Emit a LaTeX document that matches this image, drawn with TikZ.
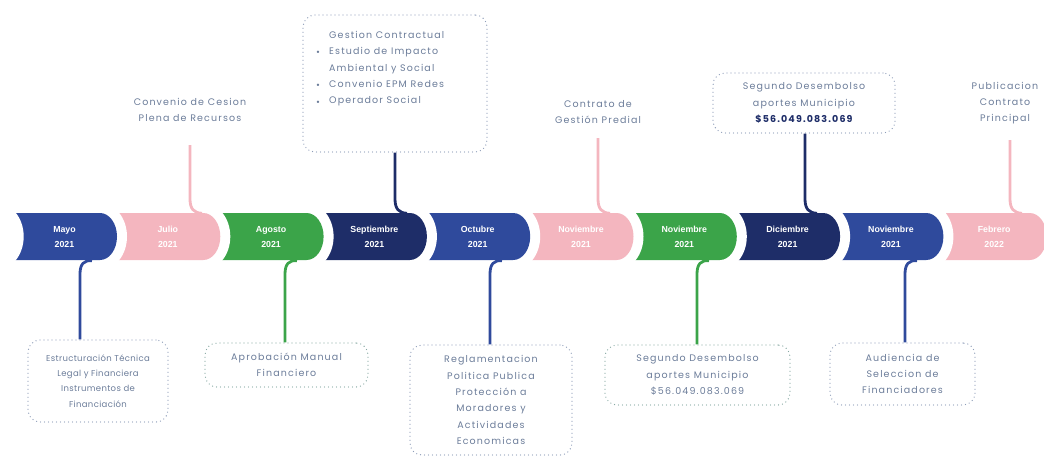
\documentclass[tikz,border=0pt]{standalone}
\usepackage{fontspec}
\newfontfamily\lblfont[LetterSpace=12]{Poppins}
\newfontfamily\lblfontn[LetterSpace=4]{Poppins}
\newfontfamily\segfont{Liberation Sans}
\definecolor{cblue}{HTML}{2F4A9C}
\definecolor{cnavy}{HTML}{1E2D68}
\definecolor{cpink}{HTML}{F4B6BF}
\definecolor{cgreen}{HTML}{3BA449}
\definecolor{ctext}{HTML}{6B7C99}
\definecolor{cdotb}{HTML}{8E9DB8}
\definecolor{cdotg}{HTML}{86A8A2}
\tikzset{
  seglbl/.style={inner sep=0pt, minimum width=105pt, minimum height=47pt, text=white,
    font=\segfont\bfseries\fontsize{8.8}{15}\selectfont, align=center},
  lbl/.style={text=ctext, font=\lblfont\fontsize{9.5}{16.3}\selectfont, align=center, inner sep=0pt},
  box/.style={draw=#1, line width=1.3pt, dash pattern=on 0pt off 4pt, line cap=round,
    rounded corners=12pt, inner sep=0pt, text=ctext,
    font=\lblfont\fontsize{9.5}{16.3}\selectfont, align=center},
  conn/.style={draw=#1, line width=2.8pt}
}
\begin{document}
\begin{tikzpicture}[x=1pt,y=-1pt]
\path[use as bounding box] (0,0) rectangle (1044,458);
% timeline segments, drawn right to left
\foreach \i/\col/\mo/\yr in {9/cpink/Febrero/2022, 8/cblue/Noviembre/2021, 7/cnavy/Diciembre/2021,
  6/cgreen/Noviembre/2021, 5/cpink/Noviembre/2021, 4/cblue/Octubre/2021, 3/cnavy/Septiembre/2021,
  2/cgreen/Agosto/2021, 1/cpink/Julio/2021, 0/cblue/Mayo/2021}{
  \pgfmathsetmacro\L{12+103.3*\i}
  \pgfmathsetmacro\c{\L+88}
  \pgfmathsetmacro\cp{\L-15.3}
  \fill[\col] (\L-8,213) -- (\c,213) .. controls (\c+9.4,213) and (\c+17,223.5) .. (\c+17,236.5)
     .. controls (\c+17,249.5) and (\c+9.4,260) .. (\c,260) -- (\L-8,260) -- cycle;
  \fill[white] (\cp,236.5) ellipse [x radius=27pt, y radius=33.5pt];
  \node[seglbl] (s\i) at (\L+52.5,237) {\mo\\\yr};
}
% bottom boxes
\node[box=cdotb, minimum width=140pt, minimum height=82pt,
  font=\lblfontn\fontsize{8.5}{15.3}\selectfont] (b0) at (98,381)
  {Estructuración Técnica\\Legal y Financiera\\Instrumentos de\\Financiación};
\node[box=cdotg, minimum width=163pt, minimum height=44pt] (b2) at (286.5,365)
  {Aprobación Manual\\Financiero};
\node[box=cdotb, minimum width=162pt, minimum height=110pt] (b4) at (491,400)
  {Reglamentacion\\Politica Publica\\Protección a\\Moradores y\\Actividades\\Economicas};
\node[box=cdotg, minimum width=185pt, minimum height=60pt] (b6) at (697.5,375)
  {Segundo Desembolso\\aportes Municipio\\\$56.049.083.069};
\node[box=cdotb, minimum width=145pt, minimum height=62pt] (b8) at (902.5,374)
  {Audiencia de\\Seleccion de\\Financiadores};
% top boxes
\node[box=cdotb, minimum width=184pt, minimum height=137pt] (b3) at (395,83.5) {};
\node[lbl, align=left, anchor=north west] (t3) at (329,31)
  {Gestion Contractual\\Estudio de Impacto\\Ambiental y Social\\Convenio EPM Redes\\Operador Social};
\node[lbl] (d1) at (318,53) {•};
\node[lbl] (d2) at (318,86) {•};
\node[lbl] (d3) at (318,103) {•};
\node[box=cdotb, minimum width=182pt, minimum height=60pt] (b7) at (804,103)
  {Segundo Desembolso\\aportes Municipio\\{\color{cnavy}\bfseries\$56.049.083.069}};
% top labels
\node[lbl] (l1) at (190,110) {Convenio de Cesion\\Plena de Recursos};
\node[lbl] (l5) at (598,112) {Contrato de\\Gestión Predial};
\node[lbl] (l9) at (1005,103) {Publicacion\\Contrato\\Principal};
% bottom connectors
\foreach \s/\b/\X/\col in {0/0/80/cblue, 2/2/285/cgreen, 4/4/490/cblue, 6/6/697/cgreen, 8/8/905/cblue}{
  \coordinate (ba\s) at (\X+12,260);
  \coordinate (bk\s) at (\X,274);
  \draw[conn=\col] (s\s.south -| ba\s) .. controls (\X+4,260) and (\X,264) .. (bk\s) -- (b\b.north -| bk\s);
}
% top connectors from boxes
\foreach \s/\X/\col in {3/395/cnavy, 7/805/cnavy}{
  \coordinate (tk\s) at (\X,199);
  \coordinate (te\s) at (\X+12,213);
  \draw[conn=\col] (b\s.south -| tk\s) -- (tk\s) .. controls (\X,209) and (\X+4,213) .. (s\s.north -| te\s);
}
% top connectors from labels
\foreach \s/\X/\Y in {1/190/145, 5/598/138, 9/1010/140}{
  \coordinate (tu\s) at (\X,\Y);
  \coordinate (tk\s) at (\X,199);
  \coordinate (te\s) at (\X+12,213);
  \draw[conn=cpink] (tu\s) -- (tk\s) .. controls (\X,209) and (\X+4,213) .. (s\s.north -| te\s);
}
\end{tikzpicture}
\end{document}
